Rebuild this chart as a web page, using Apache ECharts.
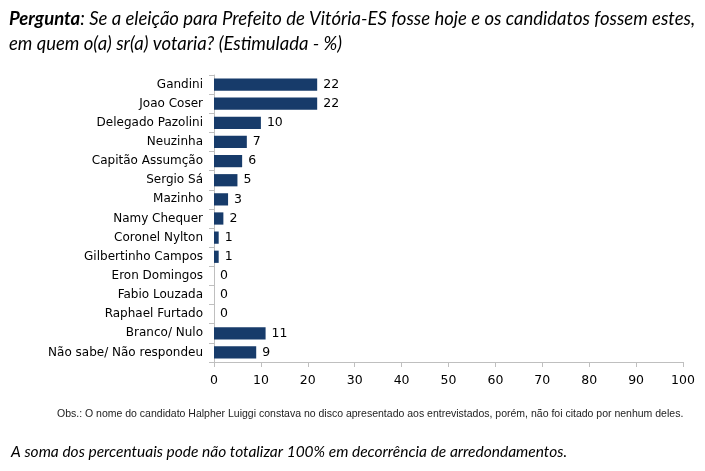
<!DOCTYPE html>
<html><head><meta charset="utf-8">
<script src="https://cdn.jsdelivr.net/npm/echarts@6/dist/echarts.min.js"></script>
<style>html,body{margin:0;padding:0;background:#fff}#c{width:705px;height:471px}</style>
</head><body><div id="c"></div>
<script>
const categories = ["Gandini","Joao Coser","Delegado Pazolini","Neuzinha","Capitão Assumção","Sergio Sá","Mazinho","Namy Chequer","Coronel Nylton","Gilbertinho Campos","Eron Domingos","Fabio Louzada","Raphael Furtado","Branco/ Nulo","Não sabe/ Não respondeu"];
const values = [22,22,10,7,6,5,3,2,1,1,0,0,0,11,9];
const xTicks = [0,10,20,30,40,50,60,70,80,90,100];

const chart = echarts.init(document.getElementById('c'));
chart.setOption({
  animation:false,
  title:[
    {left:4, top:2, text:'{b|Pergunta}{i|: Se a eleição para Prefeito de Vitória-ES fosse hoje e os candidatos fossem estes,}\n{i|em quem o(a) sr(a) votaria? (Estimulada - %)}',
     textStyle:{fontWeight:'normal',rich:{
       b:{fontFamily:'Lato',fontStyle:'italic',fontWeight:'bold',fontSize:18.5,color:'#000',lineHeight:25},
       i:{fontFamily:'Lato',fontStyle:'italic',fontWeight:'normal',fontSize:18.5,color:'#000',lineHeight:25}}}},
    {left:52, top:404, text:'Obs.: O nome do candidato Halpher Luiggi constava no disco apresentado aos entrevistados, porém, não foi citado por nenhum deles.',
     textStyle:{fontFamily:'Liberation Sans',fontSize:10.5,fontWeight:'normal',color:'#222'}},
    {left:6, top:439, text:'A soma dos percentuais pode não totalizar 100% em decorrência de arredondamentos.',
     textStyle:{fontFamily:'Lato',fontStyle:'italic',fontSize:15.5,fontWeight:'normal',color:'#000'}}
  ],
  grid:{left:214, right:22, top:75, height:287, containLabel:false},
  xAxis:{type:'value', min:0, max:100, interval:10,
    axisLine:{show:true,lineStyle:{color:'#bfbfbf'}},
    axisTick:{show:true,length:5,lineStyle:{color:'#bfbfbf'}},
    splitLine:{show:false},
    axisLabel:{fontFamily:'DejaVu Sans',fontSize:12.5,color:'#000',margin:12,
      formatter:v=>xTicks.includes(v)?String(v):''}},
  yAxis:{type:'category', data:categories, inverse:true,
    axisLine:{show:true,lineStyle:{color:'#bfbfbf'}},
    axisTick:{show:true,length:5,lineStyle:{color:'#bfbfbf'}},
    axisLabel:{fontFamily:'DejaVu Sans',fontSize:12,color:'#000',margin:11}},
  series:[{type:'bar', data:values, barWidth:'64%',
    itemStyle:{color:'#173b6a'},
    label:{show:true,position:'right',distance:6,fontFamily:'DejaVu Sans',fontSize:12.5,color:'#000'}}]
});
</script></body></html>
